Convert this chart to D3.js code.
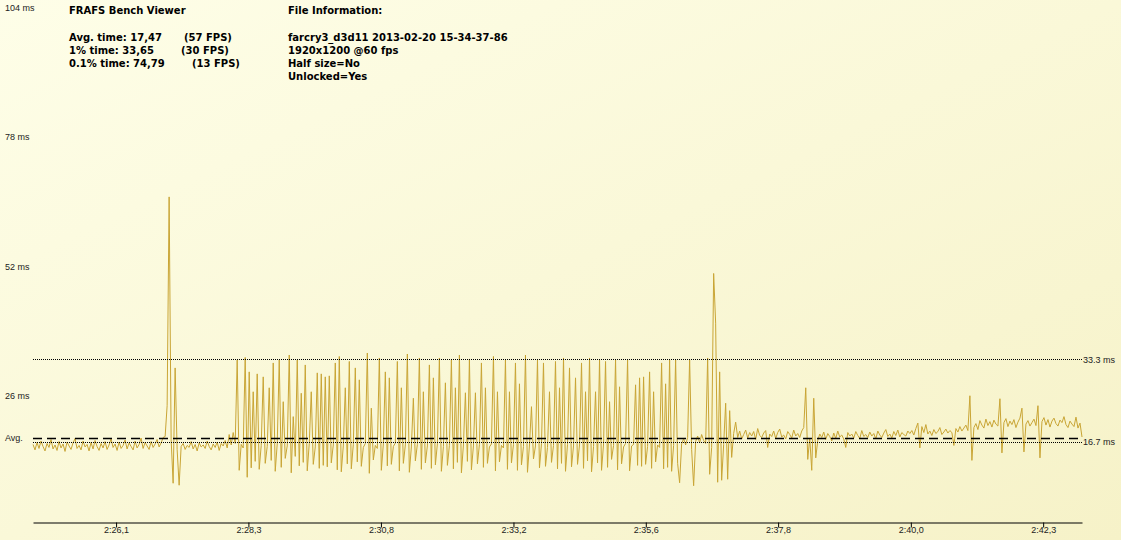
<!DOCTYPE html>
<html>
<head>
<meta charset="utf-8">
<script src="https://cdn.jsdelivr.net/npm/d3@7"></script>
<style>
  html, body { margin: 0; padding: 0; background: #fcfbe2; }
  svg { display: block; }
  .small { font-family: "Liberation Sans", Arial, sans-serif; font-size: 9px; fill: #222; }
  .info { font-family: "DejaVu Sans", Verdana, sans-serif; font-size: 10px; font-weight: bold; fill: #000; }
</style>
</head>
<body>
<div id="chart"></div>
<script>
// frame times (ms) from left to right
const calmStart = [
  16.2, 15.1, 16.6, 15.4, 16.9, 15.8, 14.9, 16.4, 15.6, 17.2,
  15.3, 16.1, 15.0, 16.8, 15.5, 16.3, 14.8, 16.7, 15.9, 15.2,
  16.5, 17.4, 15.4, 16.0, 15.1, 16.9, 15.7, 16.2, 14.9, 16.6,
  15.3, 17.0, 15.8, 15.0, 16.4, 15.5, 16.8, 15.2, 16.1, 17.3,
  15.6, 16.3, 15.0, 16.7, 15.4, 16.0, 17.1, 15.3, 16.5, 15.8,
  15.1, 16.9, 15.5, 16.2, 17.5, 15.4, 16.6, 15.9, 15.2, 16.8,
  15.6, 16.3, 17.2, 15.7, 16.5, 17.6
];
const firstHitch = [17.8, 24.0, 66.0, 17.2, 8.4, 31.6, 15.2, 8.0, 15.8];
const calmMiddle = [
  16.4, 15.2, 16.0, 15.6, 16.8, 15.3, 16.2, 14.9, 16.5, 15.7,
  16.1, 15.4, 16.9, 15.8, 15.1, 16.3, 15.6, 16.7, 15.0, 16.4,
  15.9, 17.0, 15.5, 18.2, 16.1, 18.6, 16.4
];
const stutterRun = [
  33.2, 11.0, 16.2, 15.5, 33.7, 9.6, 30.8, 11.5, 26.8, 12.8,
  30.4, 11.2, 16.0, 29.8, 12.4, 15.8, 27.6, 13.0, 32.6, 10.8,
  16.3, 33.2, 11.6, 24.8, 13.4, 15.9, 34.2, 10.5, 21.8, 13.8,
  33.2, 11.9, 26.5, 12.6, 32.2, 10.9, 16.4, 26.8, 12.2, 15.7,
  30.6, 11.4, 30.4, 12.0, 29.8, 11.7, 30.0, 12.5, 16.1, 32.6,
  11.1, 33.9, 10.7, 15.9, 27.6, 12.3, 32.9, 11.3, 16.2, 31.6,
  12.7, 29.2, 11.8, 15.6, 16.4, 34.6, 10.4, 23.5, 13.1, 16.0,
  15.4, 33.6, 11.0, 16.3, 30.8, 11.9, 29.6, 12.2, 15.8, 16.5,
  32.9, 10.9, 27.6, 12.4, 16.1, 34.4, 10.6, 15.7, 25.5, 12.9,
  16.2, 33.6, 11.2, 26.8, 12.5, 15.9, 32.2, 11.4, 29.6, 12.1,
  16.3, 33.6, 10.8, 15.8, 28.6, 12.0, 16.0, 33.2, 11.3, 27.6,
  12.6, 34.2, 10.5, 16.1, 26.6, 12.8, 33.4, 11.1, 15.9, 26.6,
  12.3, 16.2, 32.6, 11.6, 27.6, 12.4, 15.7, 16.3, 33.9, 10.9,
  26.8, 12.7, 16.0, 15.5, 33.2, 11.2, 26.8, 12.5, 16.2, 32.6,
  11.0, 28.4, 12.1, 15.8, 34.2, 10.6, 16.1, 23.8, 13.3, 15.9,
  33.2, 11.5, 16.4, 32.6, 11.8, 15.6, 26.8, 12.6, 16.0, 32.9,
  11.3, 27.6, 12.4, 33.6, 10.8, 16.2, 31.6, 11.7, 15.9, 29.6,
  12.2, 16.1, 32.6, 11.4, 26.8, 12.9, 33.6, 10.7, 15.8, 26.8,
  12.5, 33.2, 11.0, 16.3, 32.9, 11.6, 24.8, 13.2, 16.0, 33.2,
  11.1, 27.8, 12.3, 15.7, 16.4, 33.2, 10.9, 15.9, 16.2, 28.2,
  12.0, 29.6, 11.8, 29.8, 12.2, 15.8, 30.8, 11.4, 26.8, 12.7,
  16.1, 15.6, 32.6, 11.3, 28.4, 11.6, 33.2, 10.8, 16.0, 33.2,
  12.4, 8.5, 16.3, 17.4, 16.1, 17.6, 33.2, 15.2, 7.9, 16.8,
  17.9, 16.5, 18.2, 17.0, 16.4, 33.6, 10.2, 15.6, 50.6, 40.6,
  8.6, 30.8, 9.0, 16.2, 24.5, 9.2, 23.0, 13.6
];
const settledEnd = [
  18.4, 20.7, 17.6, 18.9, 17.3, 18.2, 19.1, 17.5, 18.6, 17.9,
  18.8, 17.2, 19.4, 18.0, 17.6, 18.5, 19.0, 15.6, 18.3, 17.8,
  18.9, 17.4, 18.6, 19.3, 17.7, 18.1, 17.3, 18.8, 18.2, 17.5,
  19.1, 17.9, 18.4, 17.6, 18.9, 19.6, 27.6, 13.2, 17.5, 11.0,
  25.5, 13.5, 17.0, 18.3, 17.6, 18.7, 17.2, 18.4, 17.8, 16.9,
  18.5, 17.4, 18.9, 17.7, 18.1, 17.3, 15.6, 18.6, 17.9, 18.3,
  17.5, 18.8, 18.0, 17.4, 19.0, 17.8, 18.2, 17.6, 18.7, 17.9,
  18.4, 17.3, 18.9, 18.1, 17.6, 18.5, 19.2, 17.8, 18.3, 17.5,
  18.8, 18.0, 19.1, 17.7, 18.6, 18.2, 17.9, 18.9, 18.4, 19.0,
  18.1, 19.4, 20.5, 15.5, 19.8, 18.6, 20.2, 18.3, 18.9, 18.0,
  19.2, 18.4, 18.8, 19.6, 18.2, 18.7, 19.3, 18.5, 19.0, 18.6,
  16.0, 19.4, 18.7, 19.8, 18.9, 19.5, 20.1, 19.0, 26.0, 13.0,
  19.6, 20.4, 19.2, 21.0, 20.1, 19.5, 21.3, 20.0, 20.8, 19.7,
  21.1, 20.3, 19.9, 25.4, 14.5, 20.6, 21.4, 19.8, 20.9, 20.2,
  21.2, 19.6, 20.7, 21.5, 23.5, 14.7, 20.3, 21.0, 19.9, 20.6,
  21.3, 20.0, 24.0, 13.5, 20.8, 21.6, 20.1, 21.2, 19.7, 20.9,
  21.5, 20.4, 19.9, 21.1, 20.6, 21.8, 20.2, 19.6, 20.9, 20.3,
  19.8, 21.7, 19.5, 20.5, 17.7
];

const yTicks = [104, 78, 52, 26];
const refLines = [33.3, 16.7];
const avgTime = 17.47;

// x labels sit under these sample numbers
const xTickAt = [41.5, 107.6, 173.8, 240.0, 306.1, 372.2, 438.5, 504.6];
const xTickLabels = ["2:26,1", "2:28,3", "2:30,8", "2:33,2", "2:35,6", "2:37,8", "2:40,0", "2:42,3"];

const statsTitle = "FRAFS Bench Viewer";
const statsNames = ["Avg. time: 17,47", "1% time: 33,65", "0.1% time: 74,79"];
const statsFps = ["(57 FPS)", "(30 FPS)", "(13 FPS)"];
const fileTitle = "File Information:";
const fileLines = ["farcry3_d3d11 2013-02-20 15-34-37-86", "1920x1200 @60 fps", "Half size=No", "Unlocked=Yes"];

const frameTimes = [].concat(calmStart, firstHitch, calmMiddle, stutterRun, settledEnd);

const width = 1121, height = 540;
const axisY = 522;

const svg = d3.select("#chart").append("svg")
  .attr("width", width)
  .attr("height", height);

// pale yellow backdrop
const grad = svg.append("defs").append("linearGradient")
  .attr("id", "bg")
  .attr("x1", "0").attr("y1", "0").attr("x2", "1").attr("y2", "1");
grad.append("stop").attr("offset", "0%").attr("stop-color", "#fefee8");
grad.append("stop").attr("offset", "100%").attr("stop-color", "#f6f2c8");
svg.append("rect").attr("width", width).attr("height", height).attr("fill", "url(#bg)");

const x = d3.scaleLinear().domain([0, frameTimes.length - 1]).range([33, 1082]);
const y = d3.scaleLinear().domain([0, 104]).range([525, 8]);

// frame time trace
const line = d3.line().x((d, i) => x(i)).y(d => y(d));
svg.append("path")
  .datum(frameTimes)
  .attr("d", line)
  .attr("fill", "none")
  .attr("stroke", "#c9a535")
  .attr("stroke-width", 1);

// 33.3 / 16.7 ms dotted guides
svg.selectAll(".ref").data(refLines).enter().append("line")
  .attr("class", "ref")
  .attr("x1", 33).attr("x2", 1082)
  .attr("y1", d => Math.round(y(d)) + 0.5).attr("y2", d => Math.round(y(d)) + 0.5)
  .attr("stroke", "#000")
  .attr("stroke-width", 1)
  .attr("stroke-dasharray", "1,1");
svg.selectAll(".refLabel").data(refLines).enter().append("text")
  .attr("class", "small")
  .attr("x", 1083).attr("y", d => y(d))
  .attr("dy", "0.35em")
  .text(d => d + " ms");

// average dashed line
svg.append("line")
  .attr("x1", 33).attr("x2", 1082)
  .attr("y1", Math.round(y(avgTime)) + 0.5).attr("y2", Math.round(y(avgTime)) + 0.5)
  .attr("stroke", "#000")
  .attr("stroke-width", 1.3)
  .attr("stroke-dasharray", "9,5");
svg.append("text")
  .attr("class", "small")
  .attr("x", 5).attr("y", y(avgTime))
  .attr("dy", "0.35em")
  .text("Avg.");

// y labels
svg.selectAll(".yLabel").data(yTicks).enter().append("text")
  .attr("class", "small")
  .attr("x", 5).attr("y", d => y(d))
  .attr("dy", "0.35em")
  .text(d => d + " ms");

// x axis
const xAxis = d3.axisBottom(x)
  .tickValues(xTickAt)
  .tickFormat((d, i) => xTickLabels[i])
  .tickSize(5)
  .tickPadding(-1)
  .tickSizeOuter(0);
const gx = svg.append("g")
  .attr("transform", `translate(0,${axisY + 0.5})`)
  .call(xAxis);
gx.select(".domain").attr("stroke", "#000");
gx.selectAll(".tick line").attr("stroke", "#000");
gx.selectAll(".tick text")
  .attr("class", "small")
  .attr("font-family", null)
  .attr("font-size", null);
gx.attr("font-family", null).attr("font-size", null);

// header text
svg.append("text").attr("class", "info").attr("x", 69).attr("y", 14).text(statsTitle);
statsNames.forEach((s, i) => {
  svg.append("text").attr("class", "info").attr("x", 69).attr("y", 41 + i * 13).text(s);
});
const fpsX = [184, 181, 192];
statsFps.forEach((s, i) => {
  svg.append("text").attr("class", "info").attr("x", fpsX[i]).attr("y", 41 + i * 13).text(s);
});
svg.append("text").attr("class", "info").attr("x", 288).attr("y", 14).text(fileTitle);
fileLines.forEach((s, i) => {
  svg.append("text").attr("class", "info").attr("x", 288).attr("y", 41 + i * 13).text(s);
});
</script>
</body>
</html>
